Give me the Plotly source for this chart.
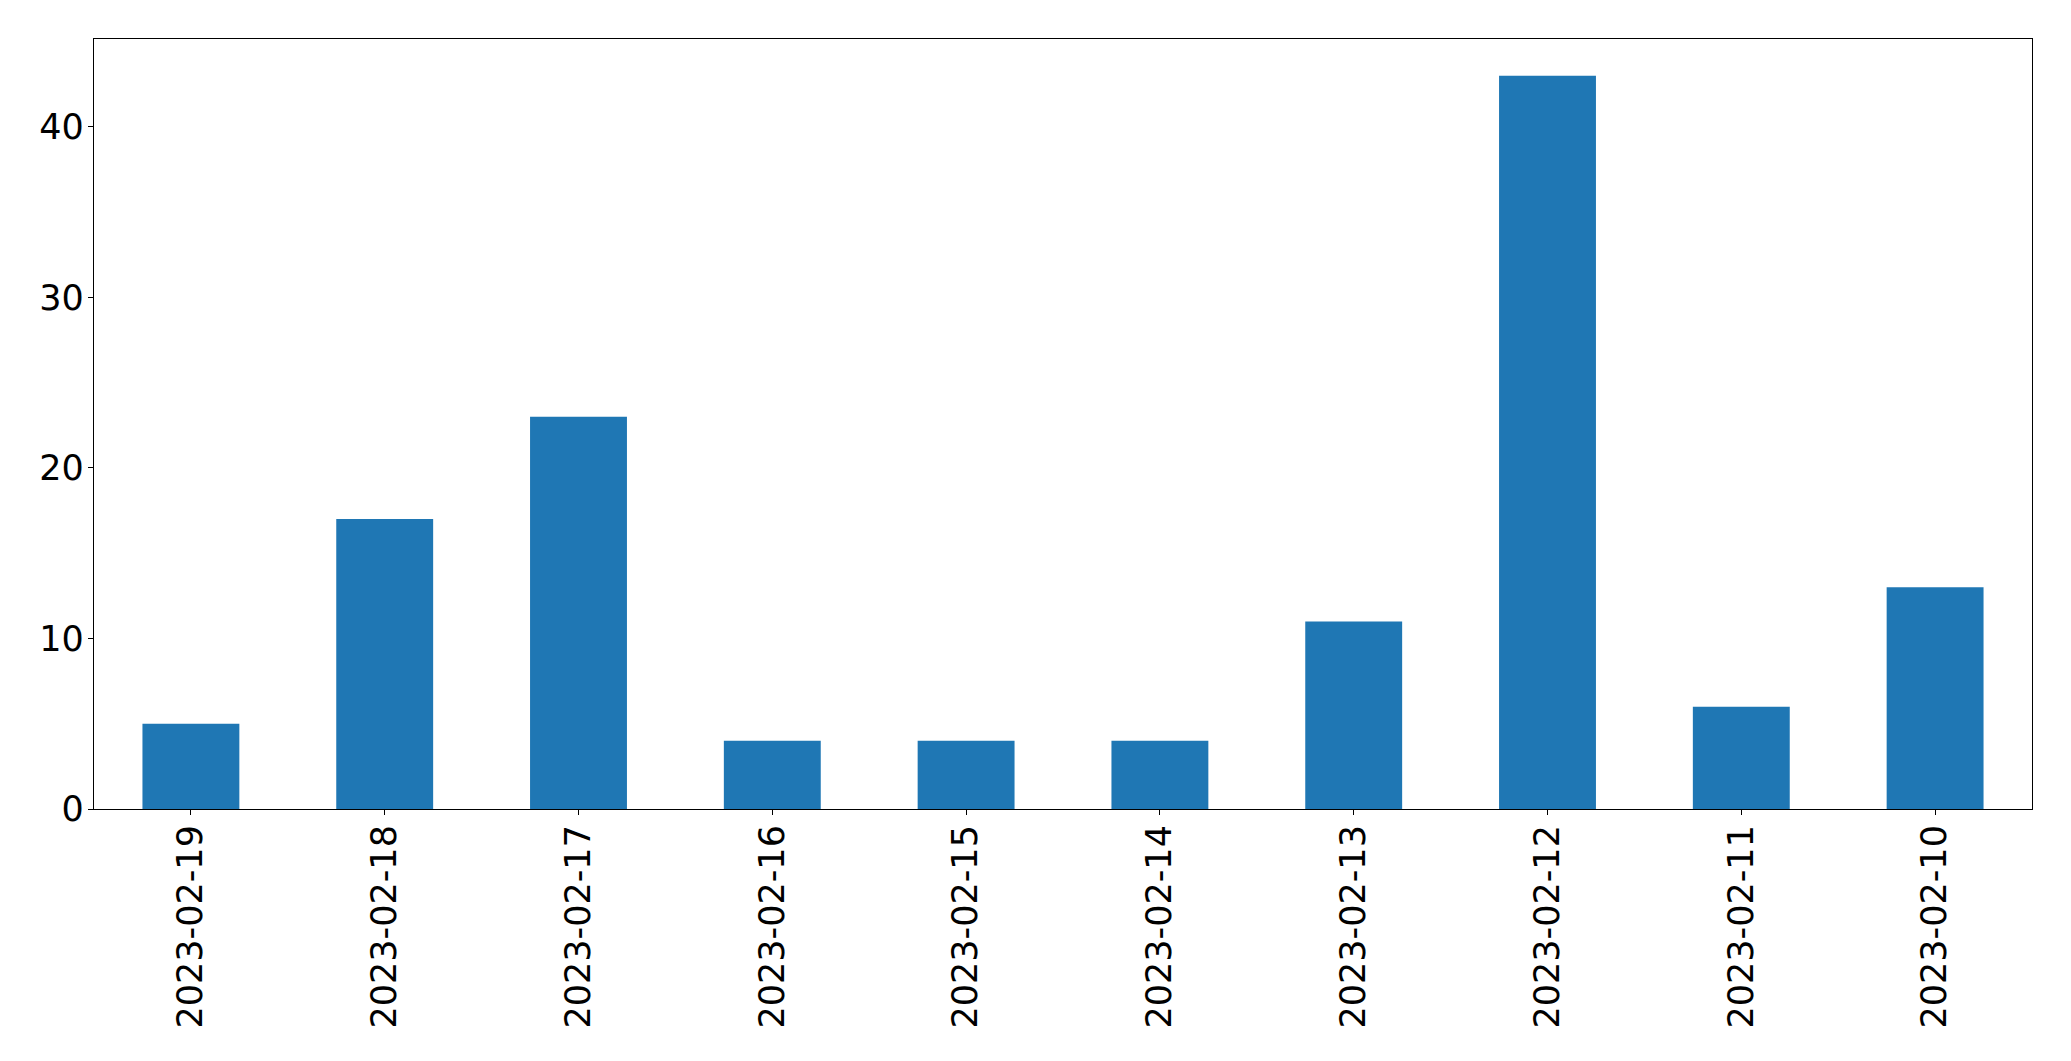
import plotly.graph_objects as go

dates = ["2023-02-19", "2023-02-18", "2023-02-17", "2023-02-16", "2023-02-15",
         "2023-02-14", "2023-02-13", "2023-02-12", "2023-02-11", "2023-02-10"]
counts = [5, 17, 23, 4, 4, 4, 11, 43, 6, 13]
y_ticks = [0, 10, 20, 30, 40]

fig = go.Figure()
fig.add_trace(go.Bar(x=dates, y=counts, marker=dict(color="#1f77b4", line=dict(width=0))))

fig.update_layout(
    width=2071, height=1061,
    margin=dict(l=86, r=47, t=31, b=260, pad=0),
    paper_bgcolor="white", plot_bgcolor="white",
    bargap=0.5,
    showlegend=False,
    font=dict(family="DejaVu Sans", size=35, color="black"),
)
fig.update_xaxes(
    type="category", tickangle=-90,
    showline=True, mirror=True, linecolor="black", linewidth=1.2,
    ticks="outside", ticklen=5, tickwidth=1.2, tickcolor="black",
    showgrid=False, zeroline=False,
    tickfont=dict(family="DejaVu Sans", size=35, color="black"),
    ticklabelstandoff=-4,
)
fig.update_yaxes(
    range=[0, max(counts) * 1.05], tickvals=y_ticks,
    showline=True, mirror=True, linecolor="black", linewidth=1.2,
    ticks="outside", ticklen=5, tickwidth=1.2, tickcolor="black",
    showgrid=False, zeroline=False,
    tickfont=dict(family="DejaVu Sans", size=35, color="black"),
    ticklabelstandoff=-3,
)

fig.write_html("out.html")
